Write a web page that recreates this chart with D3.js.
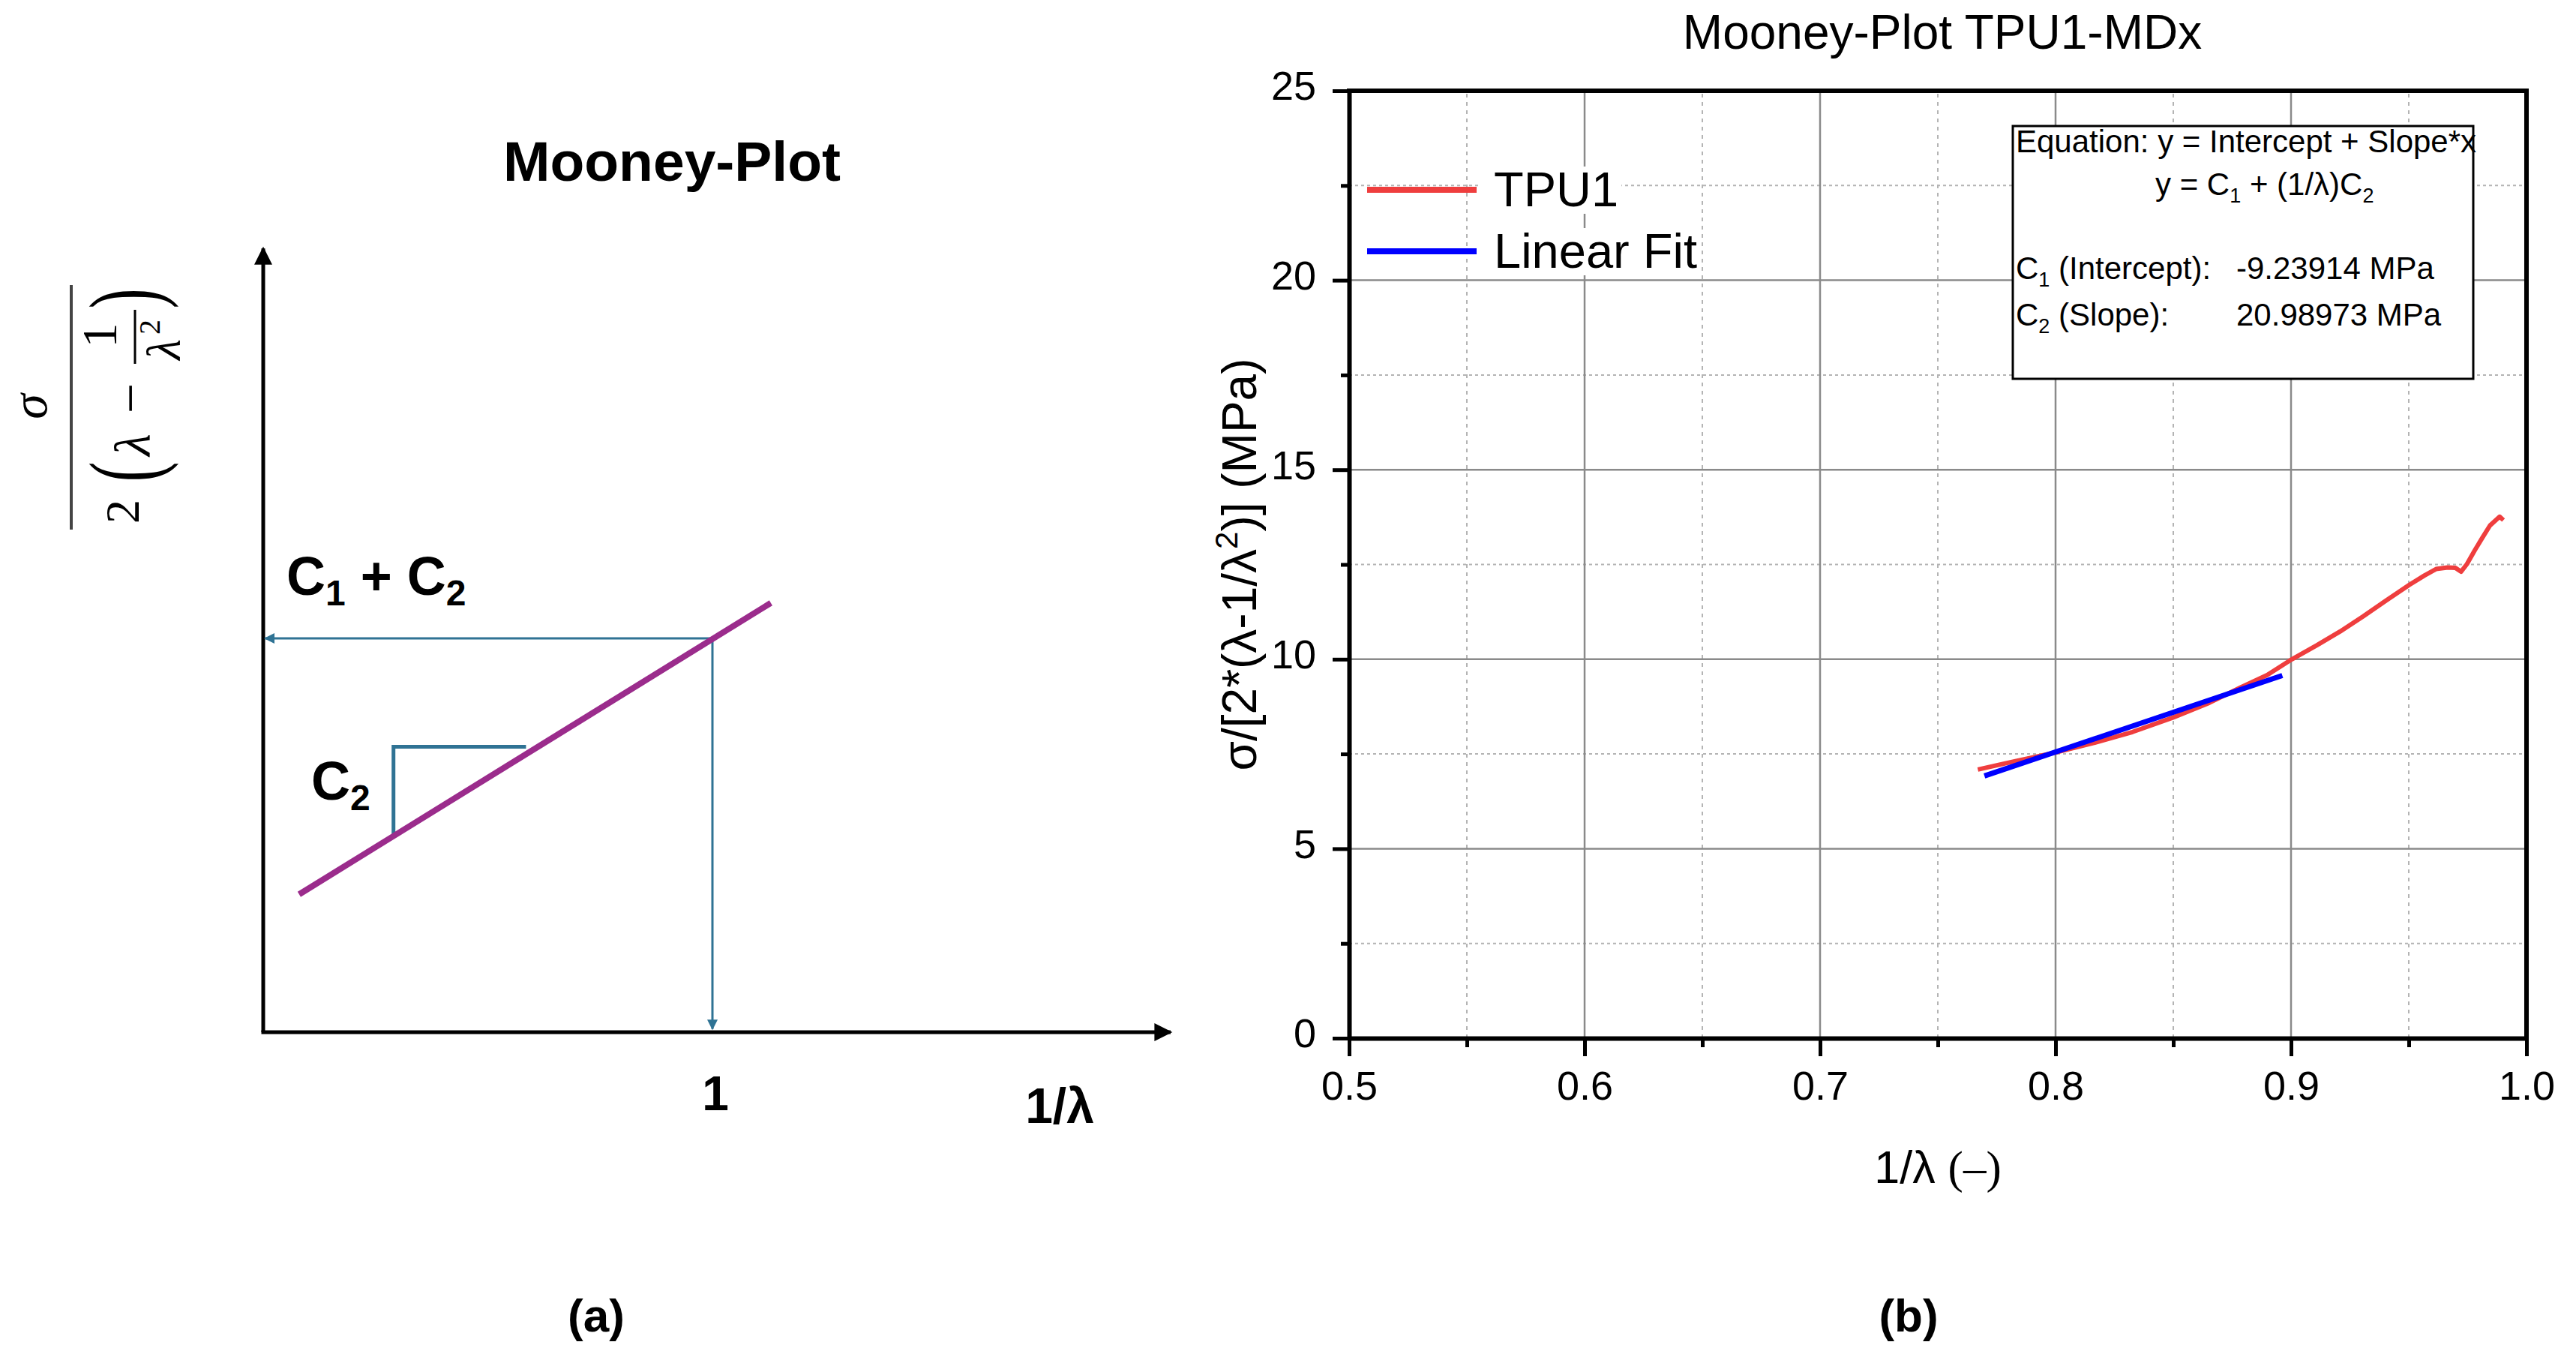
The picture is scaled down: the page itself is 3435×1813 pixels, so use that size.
<!DOCTYPE html>
<html><head><meta charset="utf-8">
<script src="https://cdn.jsdelivr.net/npm/d3@7"></script>
<style>html,body{margin:0;padding:0;background:#fff;} svg{display:block;}</style>
</head><body>
<svg id="c" width="3435" height="1813"></svg>
<script>
// ---------- data: panel (b) ----------
const chartTitle = "Mooney-Plot TPU1-MDx";
const xTickValues = [0.5, 0.6, 0.7, 0.8, 0.9, 1.0];
const xMinorValues = [0.55, 0.65, 0.75, 0.85, 0.95];
const yTickValues = [0, 5, 10, 15, 20, 25];
const yMinorValues = [2.5, 7.5, 12.5, 17.5, 22.5];
const tpuX = [0.767, 0.7837, 0.800, 0.8163, 0.8327, 0.8498, 0.8653, 0.8784, 0.8898, 0.9004, 0.911, 0.9208, 0.9306, 0.9404, 0.9502, 0.9567, 0.9616, 0.9665, 0.9698, 0.9722, 0.9747, 0.978, 0.9812, 0.9845, 0.9886, 0.9902];
const tpuY = [7.09, 7.32, 7.54, 7.79, 8.08, 8.46, 8.85, 9.25, 9.58, 10.00, 10.37, 10.73, 11.13, 11.55, 11.96, 12.21, 12.38, 12.42, 12.41, 12.31, 12.51, 12.87, 13.20, 13.53, 13.76, 13.67];
const fitX = [0.7698, 0.8963];
const fitY = [6.92, 9.57];
const legendLabels = ["TPU1", "Linear Fit"];
const seriesColors = ["#ef3e3e", "#0000ff"];
const fitIntercept = "-9.23914 MPa";
const fitSlope = "20.98973 MPa";

// ---------- data: panel (a) schematic ----------
const schemTitle = "Mooney-Plot";
const schemLineX = [0.08, 1.13];
const schemLineY = [0.35, 1.09];
const slopeStepX = [0.29, 0.29, 0.585];
const slopeStepY = [0.50, 0.725, 0.725];
const guideX = [0.004, 1, 1];
const guideY = [1, 1, 0.008];
const schemAxisEnd = [2.02, 1.99];

const svg = d3.select("#c");
svg.append("rect").attr("width", 3435).attr("height", 1813).attr("fill", "#fff");
const SANS = "'Liberation Sans', Arial, Helvetica, sans-serif";
const SERIF = "'Liberation Serif', 'Times New Roman', 'DejaVu Serif', serif";

// ===================== PANEL (b) =====================
const x = d3.scaleLinear().domain([0.5, 1.0]).range([1799, 3369]);
const y = d3.scaleLinear().domain([0, 25]).range([1384, 121]);
const gB = svg.append("g");

// grid
const grid = gB.append("g");
grid.selectAll("line.vmin").data(xMinorValues).join("line")
  .attr("x1", d => x(d)).attr("x2", d => x(d)).attr("y1", y(0)).attr("y2", y(25))
  .attr("stroke", "#b4b4b4").attr("stroke-width", 2).attr("stroke-dasharray", "5,6");
grid.selectAll("line.hmin").data(yMinorValues).join("line")
  .attr("x1", x(0.5)).attr("x2", x(1.0)).attr("y1", d => y(d)).attr("y2", d => y(d))
  .attr("stroke", "#b4b4b4").attr("stroke-width", 2).attr("stroke-dasharray", "4,4");
grid.selectAll("line.vmaj").data(xTickValues.slice(1, -1)).join("line")
  .attr("x1", d => x(d)).attr("x2", d => x(d)).attr("y1", y(0)).attr("y2", y(25))
  .attr("stroke", "#8a8a8a").attr("stroke-width", 2.5);
grid.selectAll("line.hmaj").data(yTickValues.slice(1, -1)).join("line")
  .attr("x1", x(0.5)).attr("x2", x(1.0)).attr("y1", d => y(d)).attr("y2", d => y(d))
  .attr("stroke", "#8a8a8a").attr("stroke-width", 2.5);

// data lines
const line = d3.line().x(d => x(d[0])).y(d => y(d[1]));
gB.append("path").datum(tpuX.map((v, i) => [v, tpuY[i]])).attr("d", line)
  .attr("fill", "none").attr("stroke", seriesColors[0]).attr("stroke-width", 6).attr("stroke-linejoin", "round");
gB.append("path").datum(fitX.map((v, i) => [v, fitY[i]])).attr("d", line)
  .attr("fill", "none").attr("stroke", seriesColors[1]).attr("stroke-width", 7);

// frame top/right
gB.append("line").attr("x1", x(0.5) - 3).attr("x2", x(1.0) + 3).attr("y1", y(25)).attr("y2", y(25)).attr("stroke", "#000").attr("stroke-width", 6);
gB.append("line").attr("x1", x(1.0)).attr("x2", x(1.0)).attr("y1", y(25)).attr("y2", y(0)).attr("stroke", "#000").attr("stroke-width", 6);

// axes
function styleAxis(g) {
  g.select(".domain").attr("stroke", "#000").attr("stroke-width", 6);
  g.selectAll(".tick line").attr("stroke", "#000").attr("stroke-width", 5);
  g.selectAll(".tick text").attr("font-family", SANS).attr("font-size", 54).attr("fill", "#000");
}
const xAxis = gB.append("g").attr("transform", `translate(0,${y(0)})`)
  .call(d3.axisBottom(x).tickValues(xTickValues).tickFormat(d3.format(".1f")).tickSize(24).tickSizeOuter(0).tickPadding(20));
styleAxis(xAxis);
const xAxisMinor = gB.append("g").attr("transform", `translate(0,${y(0)})`)
  .call(d3.axisBottom(x).tickValues(xMinorValues).tickFormat("").tickSize(12).tickSizeOuter(0));
styleAxis(xAxisMinor); xAxisMinor.select(".domain").remove();
const yAxis = gB.append("g").attr("transform", `translate(${x(0.5)},0)`)
  .call(d3.axisLeft(y).tickValues(yTickValues).tickFormat(d3.format("d")).tickSize(22).tickSizeOuter(0).tickPadding(22));
styleAxis(yAxis);
yAxis.selectAll(".tick text").attr("dy", "0.22em");
const yAxisMinor = gB.append("g").attr("transform", `translate(${x(0.5)},0)`)
  .call(d3.axisLeft(y).tickValues(yMinorValues).tickFormat("").tickSize(11).tickSizeOuter(0));
styleAxis(yAxisMinor); yAxisMinor.select(".domain").remove();

// title
gB.append("text").attr("x", 2590).attr("y", 65).attr("text-anchor", "middle")
  .attr("font-family", SANS).attr("font-size", 64).text(chartTitle);

// axis titles
const xt = gB.append("text").attr("x", (x(0.5) + x(1.0)) / 2).attr("y", 1577).attr("text-anchor", "middle")
  .attr("font-size", 61).attr("fill", "#000");
xt.append("tspan").attr("font-family", SANS).text("1/λ ");
xt.append("tspan").attr("font-family", SERIF).text("(–)");

const yt = gB.append("text").attr("transform", `translate(1675,${(y(0) + y(25)) / 2}) rotate(-90)`)
  .attr("text-anchor", "middle").attr("font-family", SANS).attr("font-size", 64).attr("fill", "#000");
yt.append("tspan").text("σ/[2*(λ-1/λ");
yt.append("tspan").attr("font-size", 42).attr("dy", -25).text("2");
yt.append("tspan").attr("dy", 25).text(")] (MPa)");

// legend
const legY = [253, 335];
legendLabels.forEach((lab, i) => {
  const lg = gB.append("g");
  const t = lg.append("text").attr("x", 1992).attr("y", legY[i] + 22).attr("font-family", SANS)
    .attr("font-size", 65).attr("fill", "#000").text(lab);
  const bb = t.node().getBBox();
  lg.insert("rect", "text").attr("x", bb.x - 18).attr("y", bb.y + 6).attr("width", bb.width + 22).attr("height", bb.height - 10).attr("fill", "#fff");
  lg.append("line").attr("x1", 1823).attr("x2", 1969).attr("y1", legY[i]).attr("y2", legY[i])
    .attr("stroke", seriesColors[i]).attr("stroke-width", 8);
});

// equation box
const box = gB.append("g");
box.append("rect").attr("x", 2684).attr("y", 168).attr("width", 614).attr("height", 337)
  .attr("fill", "#fff").attr("stroke", "#000").attr("stroke-width", 3);
const fs = 42;
function boxText(xp, yp) {
  return box.append("text").attr("x", xp).attr("y", yp).attr("font-family", SANS).attr("font-size", fs).attr("fill", "#000");
}
boxText(2688, 203).text("Equation: y = Intercept + Slope*x");
const l2 = boxText(2874, 260);
l2.append("tspan").text("y = C");
l2.append("tspan").attr("font-size", 27).attr("dy", 10).text("1");
l2.append("tspan").attr("dy", -10).text(" + (1/λ)C");
l2.append("tspan").attr("font-size", 27).attr("dy", 10).text("2");
const l3 = boxText(2688, 372);
l3.append("tspan").text("C");
l3.append("tspan").attr("font-size", 27).attr("dy", 10).text("1");
l3.append("tspan").attr("dy", -10).text(" (Intercept):");
boxText(2982, 372).text(fitIntercept);
const l4 = boxText(2688, 434);
l4.append("tspan").text("C");
l4.append("tspan").attr("font-size", 27).attr("dy", 10).text("2");
l4.append("tspan").attr("dy", -10).text(" (Slope):");
boxText(2982, 434).text(fitSlope);

// ===================== PANEL (a) =====================
const xa = d3.scaleLinear().domain([0, 1]).range([351, 950]);
const ya = d3.scaleLinear().domain([0, 1]).range([1376, 851]);
const gA = svg.append("g");
const defs = svg.append("defs");
defs.append("marker").attr("id", "arrBlk").attr("viewBox", "0 0 10 10").attr("refX", 9).attr("refY", 5)
  .attr("markerWidth", 30).attr("markerHeight", 24).attr("markerUnits", "userSpaceOnUse").attr("orient", "auto")
  .append("path").attr("d", "M0,0 L10,5 L0,10 z").attr("fill", "#000");
defs.append("marker").attr("id", "arrBlu").attr("viewBox", "0 0 10 10").attr("refX", 9).attr("refY", 5)
  .attr("markerWidth", 16).attr("markerHeight", 14).attr("markerUnits", "userSpaceOnUse").attr("orient", "auto-start-reverse")
  .append("path").attr("d", "M0,0 L10,5 L0,10 z").attr("fill", "#2f7394");

// axes with arrows
gA.append("line").attr("x1", xa(0)).attr("y1", ya(0)).attr("x2", xa(0)).attr("y2", ya(schemAxisEnd[1]))
  .attr("stroke", "#000").attr("stroke-width", 5).attr("marker-end", "url(#arrBlk)");
gA.append("line").attr("x1", xa(0) - 2.5).attr("y1", ya(0)).attr("x2", xa(schemAxisEnd[0])).attr("y2", ya(0))
  .attr("stroke", "#000").attr("stroke-width", 5).attr("marker-end", "url(#arrBlk)");

const la = d3.line().x(d => xa(d[0])).y(d => ya(d[1]));
// guide arrows
gA.append("path").datum(guideX.map((v, i) => [v, guideY[i]])).attr("d", la)
  .attr("fill", "none").attr("stroke", "#2f7394").attr("stroke-width", 3)
  .attr("marker-start", "url(#arrBlu)").attr("marker-end", "url(#arrBlu)");
// slope step
gA.append("path").datum(slopeStepX.map((v, i) => [v, slopeStepY[i]])).attr("d", la)
  .attr("fill", "none").attr("stroke", "#2f7394").attr("stroke-width", 5);
// purple line
gA.append("path").datum(schemLineX.map((v, i) => [v, schemLineY[i]])).attr("d", la)
  .attr("fill", "none").attr("stroke", "#9b2c8c").attr("stroke-width", 8);

// texts
const BOLD = { "font-family": SANS, "font-weight": "bold", "fill": "#000" };
function bt(xp, yp, size, anchor) {
  const t = gA.append("text").attr("x", xp).attr("y", yp).attr("font-size", size).attr("text-anchor", anchor || "start");
  Object.entries(BOLD).forEach(([k, v]) => t.attr(k, v));
  return t;
}
bt(896, 241, 75, "middle").text(schemTitle);
const c12 = bt(382, 793, 72);
c12.append("tspan").text("C");
c12.append("tspan").attr("font-size", 48).attr("dy", 14).text("1");
c12.append("tspan").attr("dy", -14).text(" + C");
c12.append("tspan").attr("font-size", 48).attr("dy", 14).text("2");
const c2 = bt(415, 1066, 72);
c2.append("tspan").text("C");
c2.append("tspan").attr("font-size", 48).attr("dy", 14).text("2");
bt(xa(1) + 4, 1480, 64, "middle").text("1");
bt(1413, 1497, 66, "middle").text("1/λ");
bt(795, 1775, 62, "middle").text("(a)");
bt(2545, 1775, 62, "middle").text("(b)");

// y-label fraction sigma / 2(lambda - 1/lambda^2)
const fr = gA.append("g").attr("transform", "translate(95,542) rotate(-90)").attr("font-family", SERIF).attr("fill", "#000");
fr.append("line").attr("x1", -164).attr("x2", 162).attr("y1", 0).attr("y2", 0).attr("stroke", "#444").attr("stroke-width", 4);
fr.append("text").attr("x", 0).attr("y", -33).attr("text-anchor", "middle").attr("font-size", 68).attr("font-style", "italic").text("σ");
fr.append("text").attr("x", -140).attr("y", 90).attr("text-anchor", "middle").attr("font-size", 64).text("2");
fr.append("text").attr("transform", "translate(-87,115) scale(1,1.65)").attr("text-anchor", "middle").attr("font-size", 80).text("(");
fr.append("text").attr("x", -51).attr("y", 105).attr("text-anchor", "middle").attr("font-size", 68).attr("font-style", "italic").text("λ");
fr.append("text").attr("x", 11).attr("y", 103).attr("text-anchor", "middle").attr("font-size", 72).text("−");
fr.append("line").attr("x1", 57).attr("x2", 129).attr("y1", 85).attr("y2", 85).attr("stroke", "#000").attr("stroke-width", 3);
fr.append("text").attr("x", 95).attr("y", 60).attr("text-anchor", "middle").attr("font-size", 66).text("1");
fr.append("text").attr("x", 76).attr("y", 145).attr("text-anchor", "middle").attr("font-size", 64).attr("font-style", "italic").text("λ");
fr.append("text").attr("x", 106).attr("y", 118).attr("text-anchor", "middle").attr("font-size", 40).text("2");
fr.append("text").attr("transform", "translate(144,115) scale(1,1.65)").attr("text-anchor", "middle").attr("font-size", 80).text(")");
</script>
</body></html>
